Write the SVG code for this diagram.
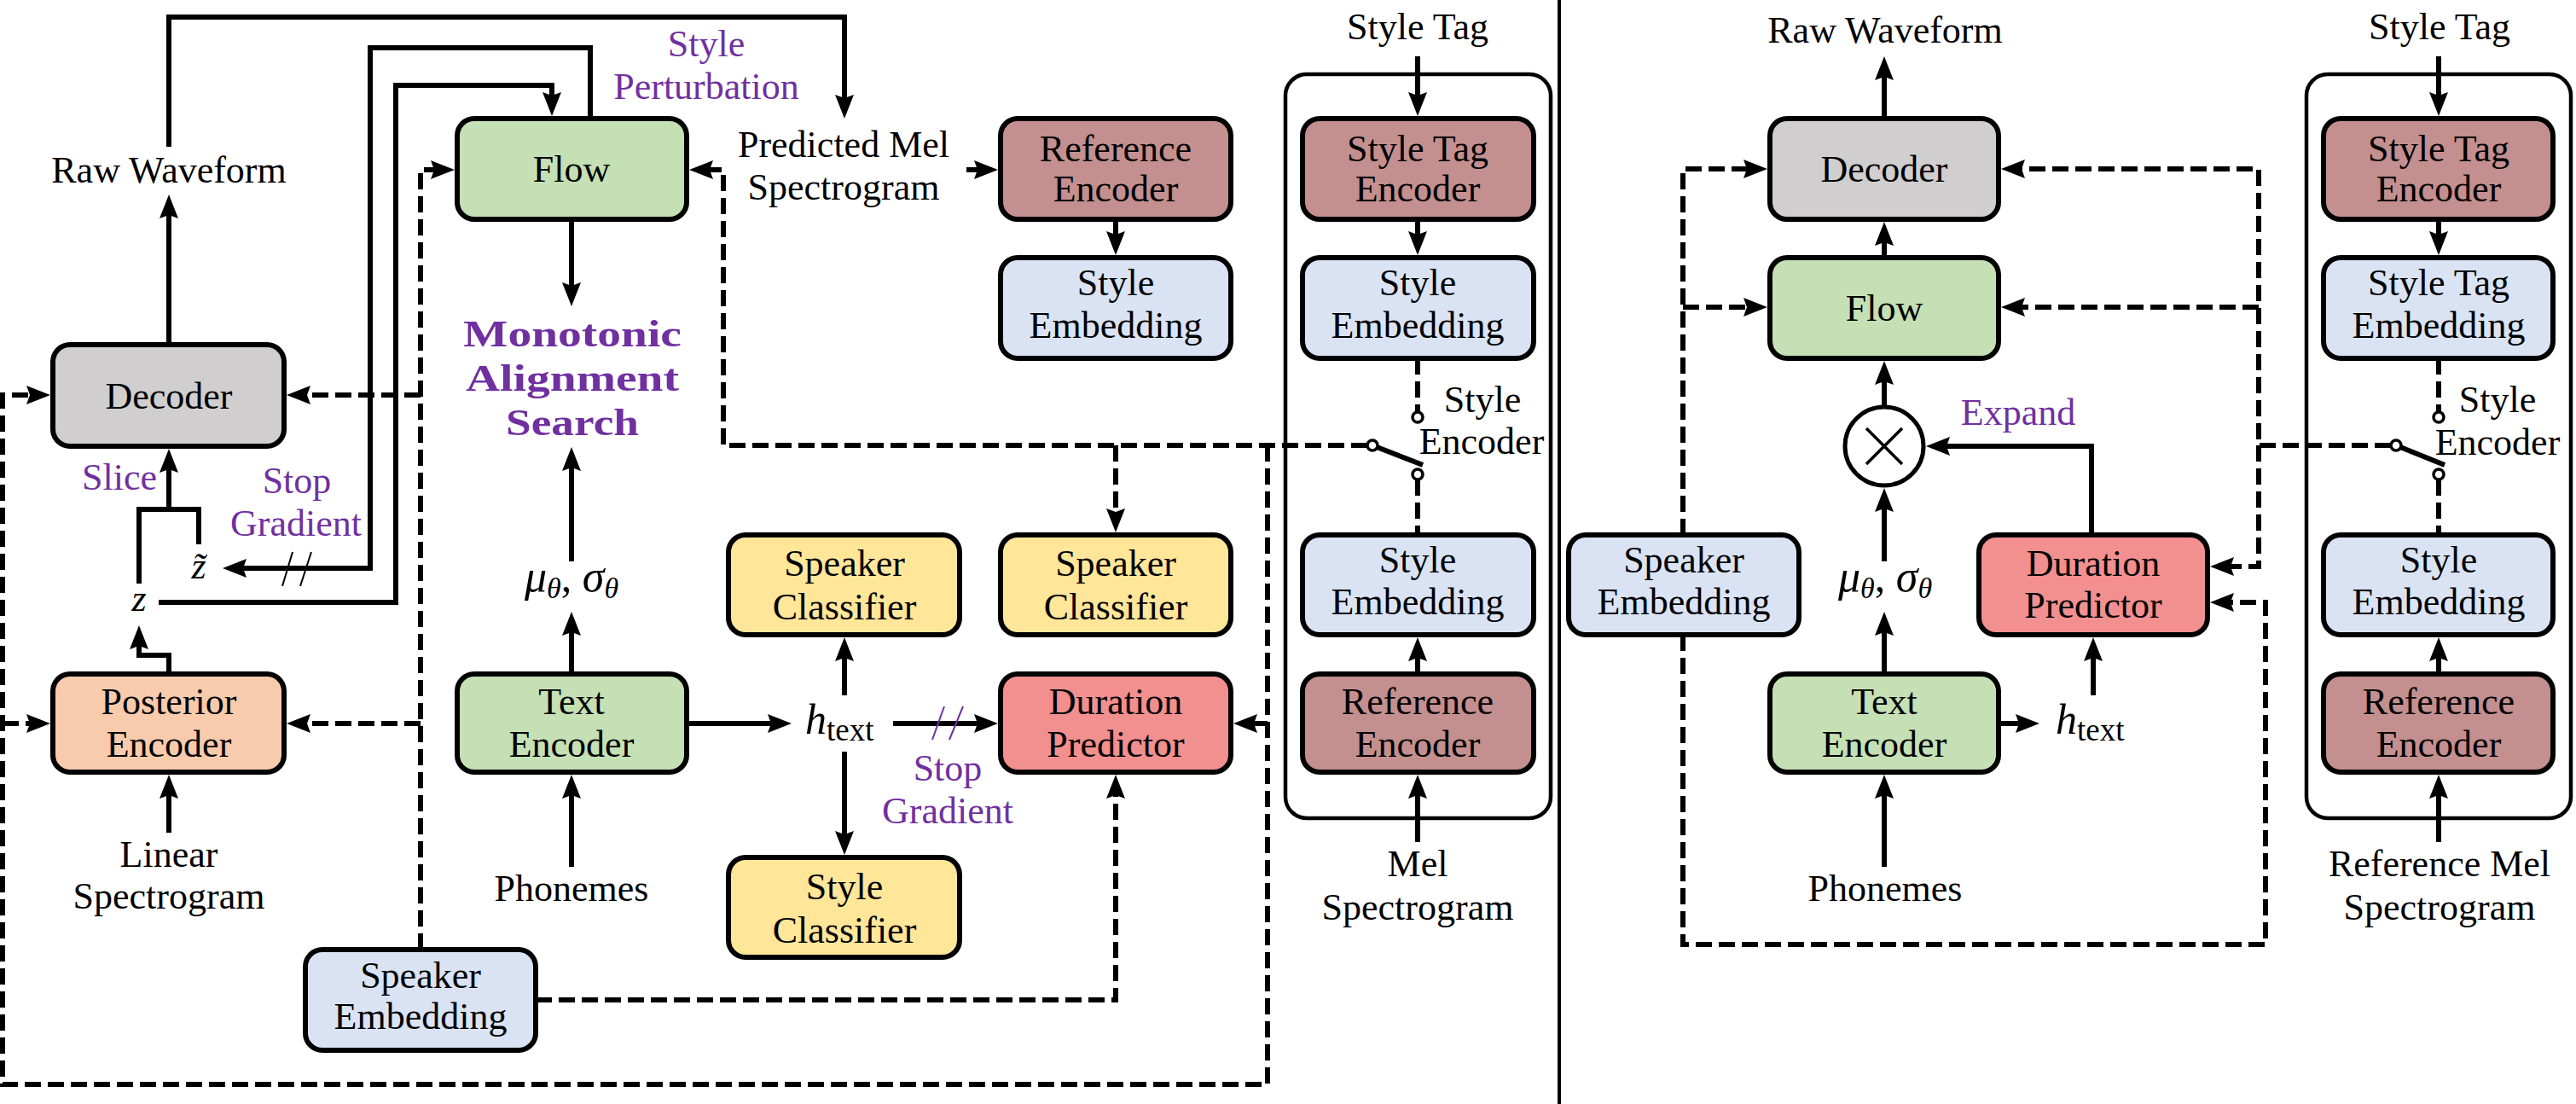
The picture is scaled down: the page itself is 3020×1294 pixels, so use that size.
<svg xmlns="http://www.w3.org/2000/svg" width="3020" height="1294" viewBox="0 0 3020 1294">
<style>
.box{stroke:#000;stroke-width:6}
.t{font-family:'Liberation Serif','DejaVu Serif',serif;font-size:44px;text-anchor:middle;fill:#000}
.p{fill:#7030A0}
.b{font-weight:bold;font-size:45px}
.i{font-style:italic}
.c{fill:none;stroke:#000;stroke-width:6}
.d{stroke-dasharray:19 8}
.a{marker-end:url(#ah)}
.g{fill:#C5E0B4}.gr{fill:#D0CECE}.o{fill:#F8CBAD}.bl{fill:#DAE3F3}.r{fill:#C48F8F}.y{fill:#FFE699}.rd{fill:#F28F8F}
.cont{fill:none;stroke:#000;stroke-width:4.5}
.sw{fill:#fff;stroke:#000;stroke-width:3.5}
</style>
<defs>
<marker id="ah" viewBox="0 0 28 22" refX="8" refY="11" markerWidth="28" markerHeight="22" markerUnits="userSpaceOnUse" orient="auto">
<path d="M0,0 L28,11 L0,22 L4,11 Z" fill="#000"/>
</marker>
</defs>
<rect width="3020" height="1294" fill="#fff"/>
<line x1="1828" y1="0" x2="1828" y2="1294" stroke="#000" stroke-width="4"/>

<!-- containers -->
<g id="style-encoder-left"><rect class="cont" x="1507" y="87" width="311" height="872" rx="25"/></g>
<g id="style-encoder-right"><rect class="cont" x="2704" y="87" width="310" height="872" rx="25"/></g>

<g id="connectors">
<!-- left solid -->
<path class="c a" d="M198,404 V248"/>
<path class="c a" d="M198,172 V20 H990 V119"/>
<path class="c a" d="M692,139 V56 H434 V666 H281"/>
<path class="c a" d="M186,706 H464 V100 H647 V116"/>
<path class="c a" d="M670,257 V339"/>
<path class="c a" d="M670,658 V544"/>
<path class="c a" d="M670,790 V737"/>
<path class="c a" d="M670,1016 V928"/>
<path class="c a" d="M198,976 V928"/>
<path class="c a" d="M198,790 V768 H163 V753"/>
<path class="c" d="M163,684 V597 H233 V638"/>
<path class="c a" d="M198,597 V546"/>
<path class="c a" d="M805,848 H908"/>
<path class="c a" d="M990,815 V767"/>
<path class="c a" d="M990,881 V982"/>
<path class="c a" d="M1047,848 H1150"/>
<path class="c a" d="M1308,257 V279"/>
<path class="c a" d="M1662,66 V116"/>
<path class="c a" d="M1662,257 V279"/>
<path class="c a" d="M1662,790 V767"/>
<path class="c a" d="M1662,987 V928"/>
<!-- stop gradient marks -->
<line x1="331" y1="687" x2="343" y2="647" stroke="#000" stroke-width="2"/>
<line x1="352" y1="687" x2="365" y2="647" stroke="#000" stroke-width="2"/>
<line x1="1093" y1="867" x2="1107" y2="828" stroke="#7030A0" stroke-width="2"/>
<line x1="1113" y1="867" x2="1129" y2="828" stroke="#7030A0" stroke-width="2"/>
<!-- left dashed -->
<path class="c d a" d="M1133,199 H1150"/>
<path class="c d a" d="M1603,522 H848 V199 H828"/>
<path class="c d a" d="M1308,522 V604"/>
<path class="c d a" d="M1486,522 V1271 H3 V463 H39"/>
<path class="c d a" d="M3,848 H39"/>
<path class="c d a" d="M1486,848 H1466"/>
<path class="c d a" d="M493,1113 V199 H513"/>
<path class="c d a" d="M493,463 H356"/>
<path class="c d a" d="M493,848 H356"/>
<path class="c d a" d="M628,1172 H1308 V928"/>
<path class="c d" d="M1662,420 V483"/>
<path class="c d" d="M1662,562 V627"/>
<!-- left switch -->
<line x1="1609" y1="522" x2="1668" y2="545" stroke="#000" stroke-width="6"/>
<circle class="sw" cx="1662" cy="489" r="6"/>
<circle class="sw" cx="1609" cy="522" r="6"/>
<circle class="sw" cx="1662" cy="556" r="6"/>

<!-- right solid -->
<path class="c a" d="M2209,139 V86"/>
<path class="c a" d="M2209,302 V280"/>
<path class="c a" d="M2209,477 V443"/>
<path class="c a" d="M2209,658 V592"/>
<path class="c a" d="M2209,790 V737"/>
<path class="c a" d="M2209,1016 V928"/>
<path class="c a" d="M2346,848 H2371"/>
<path class="c a" d="M2454,815 V767"/>
<path class="c a" d="M2452,627 V523 H2278"/>
<path class="c a" d="M2859,66 V116"/>
<path class="c a" d="M2859,257 V279"/>
<path class="c a" d="M2859,790 V767"/>
<path class="c a" d="M2859,987 V928"/>
<!-- right dashed -->
<path class="c d a" d="M1973,627 V198 H2052"/>
<path class="c d a" d="M1973,360 H2052"/>
<path class="c d a" d="M1973,744 V1107 H2656 V706 H2611"/>
<path class="c d a" d="M2803,522 H2648 V198 H2366"/>
<path class="c d a" d="M2648,360 H2366"/>
<path class="c d a" d="M2648,522 V664 H2611"/>
<path class="c d" d="M2859,420 V483"/>
<path class="c d" d="M2859,562 V627"/>
<!-- right switch -->
<line x1="2809" y1="522" x2="2866" y2="545" stroke="#000" stroke-width="6"/>
<circle class="sw" cx="2859" cy="489" r="6"/>
<circle class="sw" cx="2809" cy="522" r="6"/>
<circle class="sw" cx="2859" cy="556" r="6"/>
</g>

<!-- left panel nodes -->
<g id="flow-l"><rect class="box g" x="536" y="139" width="269" height="118" rx="20"/><text class="t" x="670" y="213">Flow</text></g>
<g id="decoder-l"><rect class="box gr" x="62" y="404" width="271" height="119" rx="20"/><text class="t" x="198" y="479">Decoder</text></g>
<g id="posterior-encoder"><rect class="box o" x="62" y="790" width="271" height="115" rx="20"/><text class="t" x="198" y="837">Posterior</text><text class="t" x="198" y="887">Encoder</text></g>
<g id="text-encoder-l"><rect class="box g" x="536" y="790" width="269" height="115" rx="20"/><text class="t" x="670" y="837">Text</text><text class="t" x="670" y="887">Encoder</text></g>
<g id="speaker-embedding-l"><rect class="box bl" x="358" y="1113" width="270" height="118" rx="20"/><text class="t" x="493" y="1158">Speaker</text><text class="t" x="493" y="1206">Embedding</text></g>
<g id="speaker-classifier-1"><rect class="box y" x="854" y="627" width="271" height="117" rx="20"/><text class="t" x="990" y="675">Speaker</text><text class="t" x="990" y="726">Classifier</text></g>
<g id="style-classifier"><rect class="box y" x="854" y="1005" width="271" height="117" rx="20"/><text class="t" x="990" y="1054">Style</text><text class="t" x="990" y="1105">Classifier</text></g>
<g id="reference-encoder-top"><rect class="box r" x="1173" y="139" width="270" height="118" rx="20"/><text class="t" x="1308" y="189">Reference</text><text class="t" x="1308" y="236">Encoder</text></g>
<g id="style-embedding-top"><rect class="box bl" x="1173" y="302" width="270" height="118" rx="20"/><text class="t" x="1308" y="346">Style</text><text class="t" x="1308" y="396">Embedding</text></g>
<g id="speaker-classifier-2"><rect class="box y" x="1173" y="627" width="270" height="117" rx="20"/><text class="t" x="1308" y="675">Speaker</text><text class="t" x="1308" y="726">Classifier</text></g>
<g id="duration-predictor-l"><rect class="box rd" x="1173" y="790" width="270" height="115" rx="20"/><text class="t" x="1308" y="837">Duration</text><text class="t" x="1308" y="887">Predictor</text></g>
<g id="style-tag-encoder-l"><rect class="box r" x="1527" y="139" width="271" height="118" rx="20"/><text class="t" x="1662" y="189">Style Tag</text><text class="t" x="1662" y="236">Encoder</text></g>
<g id="style-embedding-l1"><rect class="box bl" x="1527" y="302" width="271" height="118" rx="20"/><text class="t" x="1662" y="346">Style</text><text class="t" x="1662" y="396">Embedding</text></g>
<g id="style-embedding-l2"><rect class="box bl" x="1527" y="627" width="271" height="117" rx="20"/><text class="t" x="1662" y="671">Style</text><text class="t" x="1662" y="720">Embedding</text></g>
<g id="reference-encoder-l2"><rect class="box r" x="1527" y="790" width="271" height="115" rx="20"/><text class="t" x="1662" y="837">Reference</text><text class="t" x="1662" y="887">Encoder</text></g>

<!-- right panel nodes -->
<g id="decoder-r"><rect class="box gr" x="2075" y="139" width="268" height="118" rx="20"/><text class="t" x="2209" y="213">Decoder</text></g>
<g id="flow-r"><rect class="box g" x="2075" y="302" width="268" height="118" rx="20"/><text class="t" x="2209" y="376">Flow</text></g>
<g id="expand-multiply"><circle cx="2209" cy="523" r="46" fill="#fff" stroke="#000" stroke-width="5"/><line x1="2188" y1="502" x2="2230" y2="544" stroke="#000" stroke-width="3.5"/><line x1="2230" y1="502" x2="2188" y2="544" stroke="#000" stroke-width="3.5"/></g>
<g id="speaker-embedding-r"><rect class="box bl" x="1839" y="627" width="270" height="117" rx="20"/><text class="t" x="1974" y="671">Speaker</text><text class="t" x="1974" y="720">Embedding</text></g>
<g id="duration-predictor-r"><rect class="box rd" x="2320" y="627" width="268" height="117" rx="20"/><text class="t" x="2454" y="675">Duration</text><text class="t" x="2454" y="724">Predictor</text></g>
<g id="text-encoder-r"><rect class="box g" x="2075" y="790" width="268" height="115" rx="20"/><text class="t" x="2209" y="837">Text</text><text class="t" x="2209" y="887">Encoder</text></g>
<g id="style-tag-encoder-r"><rect class="box r" x="2724" y="139" width="269" height="118" rx="20"/><text class="t" x="2859" y="189">Style Tag</text><text class="t" x="2859" y="236">Encoder</text></g>
<g id="style-tag-embedding-r"><rect class="box bl" x="2724" y="302" width="269" height="118" rx="20"/><text class="t" x="2859" y="346">Style Tag</text><text class="t" x="2859" y="396">Embedding</text></g>
<g id="style-embedding-r"><rect class="box bl" x="2724" y="627" width="269" height="117" rx="20"/><text class="t" x="2859" y="671">Style</text><text class="t" x="2859" y="720">Embedding</text></g>
<g id="reference-encoder-r"><rect class="box r" x="2724" y="790" width="269" height="115" rx="20"/><text class="t" x="2859" y="837">Reference</text><text class="t" x="2859" y="887">Encoder</text></g>

<!-- labels -->
<g id="labels">
<text class="t" x="198" y="214">Raw Waveform</text>
<text class="t" x="989" y="184">Predicted Mel</text>
<text class="t" x="989" y="234">Spectrogram</text>
<text class="t" x="1662" y="46">Style Tag</text>
<text class="t" x="198" y="1016">Linear</text>
<text class="t" x="198" y="1065">Spectrogram</text>
<text class="t" x="670" y="1056">Phonemes</text>
<text class="t" x="1662" y="1027">Mel</text>
<text class="t" x="1662" y="1078">Spectrogram</text>
<text class="t" x="1738" y="483">Style</text>
<text class="t" x="1737" y="532">Encoder</text>
<text class="t i" x="233" y="678" font-size="48">z&#x303;</text>
<text class="t i" x="163" y="716" font-size="48">z</text>
<text class="t" x="670" y="693"><tspan class="i" font-size="52">μ</tspan><tspan class="i" font-size="34" dy="8">θ</tspan><tspan dy="-8" font-size="50">, </tspan><tspan class="i" font-size="52">σ</tspan><tspan class="i" font-size="34" dy="8">θ</tspan></text>
<text class="t" x="944" y="860" style="text-anchor:start"><tspan class="i" font-size="50">h</tspan><tspan font-size="37" dy="8">text</tspan></text>
<text class="t p" x="828" y="66">Style</text>
<text class="t p" x="828" y="116">Perturbation</text>
<text class="t p b" x="671" y="406" textLength="256" lengthAdjust="spacingAndGlyphs">Monotonic</text>
<text class="t p b" x="671" y="458" textLength="250" lengthAdjust="spacingAndGlyphs">Alignment</text>
<text class="t p b" x="671" y="510" textLength="156" lengthAdjust="spacingAndGlyphs">Search</text>
<text class="t p" x="140" y="574">Slice</text>
<text class="t p" x="348" y="578">Stop</text>
<text class="t p" x="347" y="628">Gradient</text>
<text class="t p" x="1111" y="915">Stop</text>
<text class="t p" x="1111" y="965">Gradient</text>
<text class="t" x="2210" y="50">Raw Waveform</text>
<text class="t" x="2860" y="46">Style Tag</text>
<text class="t p" x="2366" y="498">Expand</text>
<text class="t" x="2928" y="483">Style</text>
<text class="t" x="2928" y="533">Encoder</text>
<text class="t" x="2210" y="693"><tspan class="i" font-size="52">μ</tspan><tspan class="i" font-size="34" dy="8">θ</tspan><tspan dy="-8" font-size="50">, </tspan><tspan class="i" font-size="52">σ</tspan><tspan class="i" font-size="34" dy="8">θ</tspan></text>
<text class="t" x="2410" y="860" style="text-anchor:start"><tspan class="i" font-size="50">h</tspan><tspan font-size="37" dy="8">text</tspan></text>
<text class="t" x="2210" y="1056">Phonemes</text>
<text class="t" x="2860" y="1027">Reference Mel</text>
<text class="t" x="2860" y="1078">Spectrogram</text>
</g>
</svg>
